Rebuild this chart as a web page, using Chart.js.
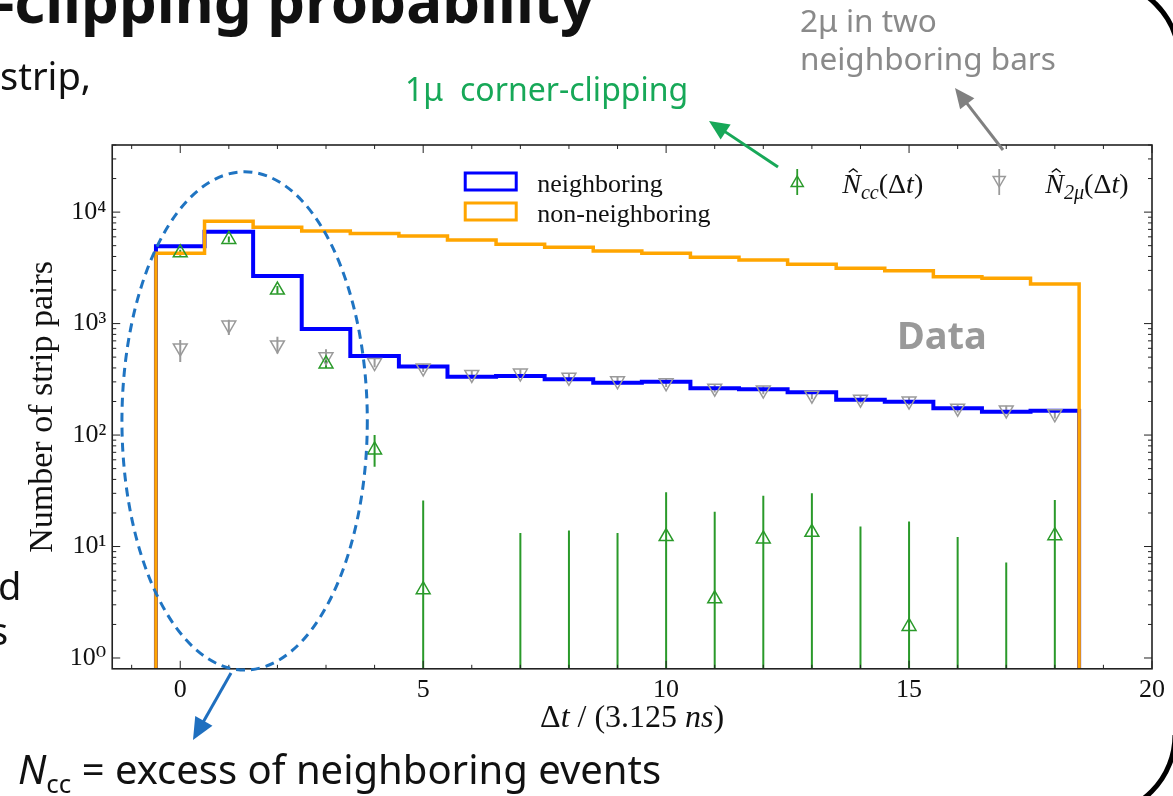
<!DOCTYPE html>
<html lang="en">
<head>
<meta charset="UTF-8">
<title>Corner-clipping probability</title>
<script src="https://cdn.jsdelivr.net/npm/chart.js"></script>
<style>
  html, body { margin: 0; padding: 0; background: #fff; }
  #wrap { position: relative; width: 1173px; height: 796px; overflow: hidden; background: #fff; }
  #plot { position: absolute; left: 0; top: 0; }
  .note { position: absolute; font-family: 'Noto Sans', sans-serif; white-space: nowrap; line-height: 1; }
</style>
</head>
<body>
<div id="wrap">
  <canvas id="plot" width="1173" height="796"></canvas>
  <div class="note" style="left:-5px; top:-30px; font-size:60px; font-weight:bold; color:#111;">-clipping probability</div>
  <div class="note" style="left:0px; top:56px; font-size:38px; color:#111;">strip,</div>
  <div class="note" style="left:405px; top:73px; font-size:32px; color:#17a858;">1μ&nbsp; corner-clipping</div>
  <div class="note" style="left:800px; top:4px; font-size:31.5px; color:#8a8a8a;">2μ in two</div>
  <div class="note" style="left:800px; top:42px; font-size:31.5px; color:#8a8a8a;">neighboring bars</div>
  <div class="note" style="left:897px; top:315px; font-size:38px; font-weight:bold; color:#999;">Data</div>
  <div class="note" style="left:-2px; top:566px; font-size:38px; color:#111;">d</div>
  <div class="note" style="left:-10px; top:611px; font-size:38px; color:#111;">s</div>
  <div class="note" style="left:18px; top:749px; font-size:40px; color:#111;"><i>N</i><sub style="font-size:26px;">cc</sub> = excess of neighboring events</div>
</div>

<script>
    // bin centres (time difference in units of 3.125 ns)
    const bins = [0, 1, 2, 3, 4, 5, 6, 7, 8, 9, 10, 11, 12, 13, 14, 15, 16, 17, 18];

    // histograms
    const neighboring = [4950, 6670, 2670, 895, 513, 412, 334, 339, 316, 295, 301, 263, 258, 242, 207, 199, 174, 162, 165];
    const nonNeighboring = [4270, 8300, 7300, 6760, 6440, 6100, 5610, 5160, 4830, 4470, 4270, 3930, 3720, 3400, 3130, 2980, 2630, 2550, 2260];

    // N_cc estimate (null = not shown, low 0 = error bar reaches below the axis)
    const ncc = [4310, 5690, 2000, 434, 73.6, 4.1, null, null, null, null, 12.3, 3.4, 11.7, 13.4, null, 1.92, null, null, 12.5];
    const nccLow = [4050, 5350, 1850, 400, 52, 0, null, 0, 0, 0, 0, 0, 0, 0, 0, 0, 0, 0, 0];
    const nccHigh = [4600, 6050, 2170, 470, 100, 25.9, null, 13.2, 13.9, 13.2, 30.7, 20.5, 28.6, 30.1, 15.1, 16.8, 12.2, 7.2, 26.2];

    // N_2mu estimate
    const n2mu = [605, 970, 643, 503, 447, 400, 350, 360, 330, 307, 294, 263, 253, 228, 210, 202, 174, 168, 155];
    const n2muLow = [453, 790, 540, 420, 405, 368, 322, 331, 303, 282, 270, 241, 232, 209, 192, 185, 159, 153, 141];
    const n2muHigh = [713, 1080, 760, 590, 490, 432, 378, 389, 357, 332, 318, 285, 274, 247, 228, 219, 189, 183, 169];

    const xTicks = [0, 5, 10, 15, 20];
    const yTicks = [1, 10, 100, 1000, 10000];

    const SERIF = '"Liberation Serif", "DejaVu Serif", serif';
    const GREEN = '#2a9a2a';
    const GREY = '#9a9a9a';

    // histogram outline: drop to below the axis at both ends
    function stepPoints(values) {
        const pts = [{ x: bins[0] - 0.5, y: 0.1 }];
        values.forEach((v, i) => pts.push({ x: bins[i] - 0.5, y: v }));
        pts.push({ x: bins[bins.length - 1] + 0.5, y: values[values.length - 1] });
        pts.push({ x: bins[bins.length - 1] + 0.5, y: 0.1 });
        return pts;
    }

    function arrow(ctx, x1, y1, x2, y2, color, width, head) {
        const ang = Math.atan2(y2 - y1, x2 - x1);
        ctx.save();
        ctx.strokeStyle = color;
        ctx.fillStyle = color;
        ctx.lineWidth = width;
        ctx.beginPath();
        ctx.moveTo(x1, y1);
        ctx.lineTo(x2 - Math.cos(ang) * head * 0.8, y2 - Math.sin(ang) * head * 0.8);
        ctx.stroke();
        ctx.beginPath();
        ctx.moveTo(x2, y2);
        ctx.lineTo(x2 - Math.cos(ang) * head + Math.sin(ang) * head * 0.45, y2 - Math.sin(ang) * head - Math.cos(ang) * head * 0.45);
        ctx.lineTo(x2 - Math.cos(ang) * head - Math.sin(ang) * head * 0.45, y2 - Math.sin(ang) * head + Math.cos(ang) * head * 0.45);
        ctx.closePath();
        ctx.fill();
        ctx.restore();
    }

    // text made of pieces (italic, subscript, hat)
    function richText(ctx, parts, x, y, size, measureOnly) {
        let cx = x;
        parts.forEach(p => {
            const s = p.sub ? size * 0.72 : size;
            ctx.font = (p.it ? 'italic ' : '') + s + 'px ' + SERIF;
            const w = ctx.measureText(p.t).width;
            if (!measureOnly) {
                ctx.fillText(p.t, cx, y + (p.sub ? size * 0.22 : 0));
                if (p.hat) {
                    const hx = cx + w / 2 + size * 0.06;
                    const hy = y - size * 0.74;
                    ctx.beginPath();
                    ctx.moveTo(hx - size * 0.16, hy);
                    ctx.lineTo(hx, hy - size * 0.12);
                    ctx.lineTo(hx + size * 0.16, hy);
                    ctx.lineWidth = 1.3;
                    ctx.stroke();
                }
            }
            cx += w;
        });
        return cx - x;
    }

    function triangle(ctx, x, y, r, down, color) {
        ctx.save();
        ctx.strokeStyle = color;
        ctx.lineWidth = 1.5;
        ctx.beginPath();
        const s = down ? -1 : 1;
        ctx.moveTo(x, y - s * r);
        ctx.lineTo(x + r * 0.866, y + s * r * 0.5);
        ctx.lineTo(x - r * 0.866, y + s * r * 0.5);
        ctx.closePath();
        ctx.stroke();
        ctx.restore();
    }

    const errorBars = {
        id: 'errorBars',
        beforeDatasetsDraw(chart) {
            const { ctx, chartArea: a, scales: { x, y } } = chart;
            ctx.save();
            ctx.beginPath();
            ctx.rect(a.left, a.top, a.right - a.left, a.bottom - a.top);
            ctx.clip();
            ctx.lineWidth = 2;
            const draw = (lo, hi, color) => {
                ctx.strokeStyle = color;
                bins.forEach((b, i) => {
                    if (hi[i] == null) return;
                    const px = x.getPixelForValue(b);
                    const top = y.getPixelForValue(hi[i]);
                    const bot = lo[i] > 0 ? y.getPixelForValue(lo[i]) : a.bottom + 2;
                    ctx.beginPath();
                    ctx.moveTo(px, top);
                    ctx.lineTo(px, bot);
                    ctx.stroke();
                });
            };
            draw(n2muLow, n2muHigh, GREY);
            draw(nccLow, nccHigh, GREEN);
            ctx.restore();
        }
    };

    const decorations = {
        id: 'decorations',
        afterDraw(chart) {
            const { ctx, chartArea: a, scales: { x, y } } = chart;
            ctx.save();

            // frame and inward ticks
            ctx.strokeStyle = '#222';
            ctx.lineWidth = 1.6;
            ctx.strokeRect(a.left, a.top, a.right - a.left, a.bottom - a.top);
            ctx.lineWidth = 1;
            ctx.beginPath();
            for (let v = Math.ceil(x.min); v <= x.max; v++) {
                const px = x.getPixelForValue(v);
                const len = xTicks.includes(v) ? 8 : 4;
                ctx.moveTo(px, a.bottom); ctx.lineTo(px, a.bottom - len);
                ctx.moveTo(px, a.top); ctx.lineTo(px, a.top + len);
            }
            for (let d = 0; d <= 4; d++) {
                for (let m = 1; m <= 9; m++) {
                    const v = m * Math.pow(10, d);
                    if (v < y.min || v > y.max) continue;
                    const py = y.getPixelForValue(v);
                    const len = m === 1 ? 8 : 4;
                    ctx.moveTo(a.left, py); ctx.lineTo(a.left + len, py);
                    ctx.moveTo(a.right, py); ctx.lineTo(a.right - len, py);
                }
            }
            ctx.stroke();

            // x axis title
            ctx.fillStyle = '#111';
            ctx.strokeStyle = '#111';
            ctx.textBaseline = 'alphabetic';
            const xTitle = [{ t: 'Δ' }, { t: 't', it: true }, { t: ' / (3.125 ' }, { t: 'ns', it: true }, { t: ')' }];
            const w = richText(ctx, xTitle, 0, 0, 32, true);
            richText(ctx, xTitle, (a.left + a.right) / 2 - w / 2, a.bottom + 58, 32);

            // legend
            const lx = a.left + 353, ly = a.top + 28;
            ctx.lineWidth = 3;
            ctx.strokeStyle = '#0000ff';
            ctx.strokeRect(lx, ly, 51, 17);
            ctx.strokeStyle = '#ffa500';
            ctx.strokeRect(lx, ly + 30, 51, 17);
            ctx.font = '26px ' + SERIF;
            ctx.fillText('neighboring', lx + 72, ly + 19);
            ctx.fillText('non-neighboring', lx + 72, ly + 49);

            const gx = a.left + 685, mx = a.left + 887;
            ctx.lineWidth = 1.8;
            ctx.strokeStyle = GREEN;
            ctx.beginPath(); ctx.moveTo(gx, ly - 4); ctx.lineTo(gx, ly + 22); ctx.stroke();
            triangle(ctx, gx, ly + 10, 7, false, GREEN);
            ctx.strokeStyle = GREY;
            ctx.beginPath(); ctx.moveTo(mx, ly - 4); ctx.lineTo(mx, ly + 22); ctx.stroke();
            triangle(ctx, mx, ly + 7, 7, true, GREY);
            ctx.fillStyle = '#111';
            ctx.strokeStyle = '#111';
            richText(ctx, [{ t: 'N', it: true, hat: true }, { t: 'cc', it: true, sub: true }, { t: '(Δ' }, { t: 't', it: true }, { t: ')' }], gx + 45, ly + 20, 28);
            richText(ctx, [{ t: 'N', it: true, hat: true }, { t: '2μ', it: true, sub: true }, { t: '(Δ' }, { t: 't', it: true }, { t: ')' }], mx + 46, ly + 20, 28);

            // dashed ellipse around the excess region
            const ex0 = x.getPixelForValue(-1.2), ex1 = x.getPixelForValue(3.85);
            const eyT = y.getPixelForValue(23000), eyB = y.getPixelForValue(0.78);
            ctx.strokeStyle = '#1f74c2';
            ctx.lineWidth = 3;
            ctx.setLineDash([9, 6]);
            ctx.beginPath();
            ctx.ellipse((ex0 + ex1) / 2, (eyT + eyB) / 2, (ex1 - ex0) / 2, (eyB - eyT) / 2, 0, 0, Math.PI * 2);
            ctx.stroke();
            ctx.setLineDash([]);

            // annotation arrows
            arrow(ctx, 231, 673, 193, 740, '#1f6fbf', 3, 22);
            arrow(ctx, 778, 167, 709, 121, '#17a858', 3, 20);
            arrow(ctx, 1003, 150, 955, 88, '#808080', 3, 20);

            // slide frame corners
            ctx.strokeStyle = '#000';
            ctx.lineWidth = 5;
            ctx.beginPath();
            ctx.arc(1100, 60, 79, -Math.PI / 2, 0);
            ctx.stroke();
            ctx.beginPath();
            ctx.arc(1095, 735, 80, 0, Math.PI / 2);
            ctx.stroke();
            ctx.restore();
        }
    };

    const sup = { '0': '⁰', '1': '¹', '2': '²', '3': '³', '4': '⁴' };

    new Chart(document.getElementById('plot'), {
        type: 'scatter',
        data: {
            datasets: [
                {
                    type: 'line', label: 'neighboring', data: stepPoints(neighboring),
                    stepped: 'before', borderColor: '#0000ff', borderWidth: 4, pointRadius: 0, fill: false, order: 4
                },
                {
                    type: 'line', label: 'non-neighboring', data: stepPoints(nonNeighboring),
                    stepped: 'before', borderColor: '#ffa500', borderWidth: 3.5, pointRadius: 0, fill: false, order: 3
                },
                {
                    label: 'N2mu', data: bins.map((b, i) => ({ x: b, y: n2mu[i] })),
                    pointStyle: 'triangle', pointRotation: 180, pointRadius: 8, borderWidth: 1.5,
                    borderColor: GREY, backgroundColor: 'rgba(0,0,0,0)', order: 2
                },
                {
                    label: 'Ncc', data: bins.map((b, i) => ({ x: b, y: ncc[i] })),
                    pointStyle: 'triangle', pointRadius: 8, borderWidth: 1.5,
                    borderColor: GREEN, backgroundColor: 'rgba(0,0,0,0)', order: 1
                }
            ]
        },
        options: {
            responsive: false,
            animation: false,
            layout: { padding: { left: 23, top: 145, right: 21, bottom: 84 } },
            plugins: { legend: { display: false }, tooltip: { enabled: false } },
            scales: {
                x: {
                    type: 'linear', min: -1.4, max: 20,
                    grid: { display: false, drawTicks: false },
                    border: { display: false },
                    afterBuildTicks: s => { s.ticks = xTicks.map(v => ({ value: v })); },
                    ticks: { color: '#111', font: { family: SERIF, size: 26 }, padding: 6 }
                },
                y: {
                    type: 'logarithmic', min: 0.8, max: 40000,
                    grid: { display: false, drawTicks: false },
                    border: { display: false },
                    afterBuildTicks: s => { s.ticks = yTicks.map(v => ({ value: v })); },
                    ticks: {
                        color: '#111', font: { family: SERIF, size: 26 }, padding: 6,
                        callback: v => '10' + sup[String(Math.round(Math.log10(v)))]
                    },
                    title: {
                        display: true, text: 'Number of strip pairs', color: '#111',
                        font: { family: SERIF, size: 34 }, padding: { top: 0, bottom: 0 }
                    }
                }
            }
        },
        plugins: [errorBars, decorations]
    });
</script>
</body>
</html>
